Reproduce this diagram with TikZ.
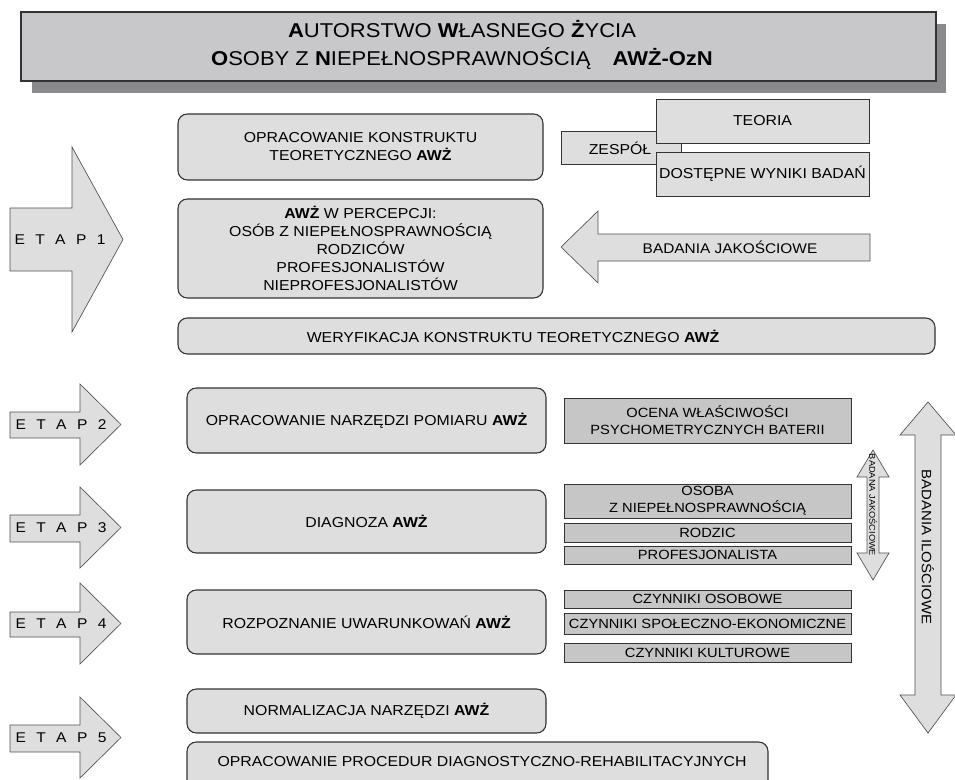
\documentclass[tikz,border=0pt]{standalone}
\usepackage{fontspec}
\setmainfont{Liberation Sans}[FakeStretch=1.1]

\definecolor{edge}{HTML}{333333}
\definecolor{lightfill}{HTML}{DEDEDE}
\definecolor{darkfill}{HTML}{C6C6C6}
\definecolor{titlefill}{HTML}{C8C8CA}
\definecolor{shadowfill}{HTML}{8A8A8C}
\definecolor{arrowfill}{HTML}{DEDEDE}

% spacing between the letters of the stage labels
\newcommand{\stagegap}{\hspace{7.8pt}}
\newcommand{\stagename}[1]{E\stagegap T\stagegap A\stagegap P\stagegap #1}

\begin{document}
\begin{tikzpicture}[x=0.75pt,y=-0.75pt,
  every node/.style={font=\fontsize{10.8}{13.5}\selectfont, align=center, inner sep=0pt},
  sz/.style 2 args={minimum width=#1*0.75pt, minimum height=#2*0.75pt},
  mainbox/.style={draw=edge, line width=0.8pt, fill=lightfill, rounded corners=7pt},
  sidebox/.style={draw=edge, line width=0.6pt, fill=lightfill},
  darkbox/.style={draw=edge, line width=0.6pt, fill=darkfill, font=\fontsize{10}{12.75}\selectfont},
  blockarrow/.style={draw=edge!85, line width=0.5pt, fill=arrowfill, line join=miter},
  etaplabel/.style={font=\fontsize{10.6}{12}\selectfont},
]
\useasboundingbox (0,0) rectangle (955,780);
\fill[white] (0,0) rectangle (955,780);

% title with drop shadow
\node[fill=shadowfill, sz={914}{69}] (shadow) at (489,58.5) {};
\node[draw=edge, line width=1.2pt, fill=titlefill, sz={915}{69}] (title) at (478.5,46.5) {};
\node[font=\fontsize{15}{21}\selectfont] (titletext) at (462,45)
  {\textbf{A}UTORSTWO \textbf{W}ŁASNEGO \textbf{Ż}YCIA\\
   \textbf{O}SOBY Z \textbf{N}IEPEŁNOSPRAWNOŚCIĄ\hspace{1.1em}\textbf{AWŻ-OzN}};

% stage arrows
\draw[blockarrow] (10,208) -- (72,208) -- (72,147) -- (123,239.5) -- (72,332) -- (72,271) -- (10,271) -- cycle;
\node[etaplabel] (etap1) at (60,240) {\stagename{1}};
\draw[blockarrow] (10,412) -- (80,412) -- (80,384) -- (121,424.5) -- (80,465) -- (80,438) -- (10,438) -- cycle;
\node[etaplabel] (etap2) at (61,425) {\stagename{2}};
\draw[blockarrow] (10,515) -- (80,515) -- (80,487) -- (121,527.5) -- (80,568) -- (80,542) -- (10,542) -- cycle;
\node[etaplabel] (etap3) at (61,528) {\stagename{3}};
\draw[blockarrow] (10,612) -- (80,612) -- (80,583) -- (121,623.5) -- (80,664) -- (80,637) -- (10,637) -- cycle;
\node[etaplabel] (etap4) at (61,624) {\stagename{4}};
\draw[blockarrow] (10,725) -- (80,725) -- (80,697) -- (121,737.5) -- (80,778) -- (80,752) -- (10,752) -- cycle;
\node[etaplabel] (etap5) at (61,738) {\stagename{5}};

% stage 1
\node[mainbox, sz={365}{66}] (construct) at (360.5,147)
  {OPRACOWANIE KONSTRUKTU\\TEORETYCZNEGO \textbf{AWŻ}};
\node[mainbox, sz={365}{99}] (perception) at (360.5,248.5)
  {\textbf{AWŻ} W PERCEPCJI:\\OSÓB Z NIEPEŁNOSPRAWNOŚCIĄ\\RODZICÓW\\PROFESJONALISTÓW\\NIEPROFESJONALISTÓW};
\node[mainbox, sz={757}{36}] (verify) at (556.5,336) {};
\node (verifytext) at (513,336) {WERYFIKACJA KONSTRUKTU TEORETYCZNEGO \textbf{AWŻ}};

\node[sidebox, sz={120}{33}] (team) at (621,147.5) {};
\node (teamtext) at (620,148) {ZESPÓŁ};
\node[sidebox, sz={213}{44}] (theory) at (762.5,121) {TEORIA};
\node[sidebox, sz={213}{44}] (results) at (762.5,174) {DOSTĘPNE WYNIKI BADAŃ};

\draw[blockarrow] (561,247) -- (598,211) -- (598,234) -- (870,234) -- (870,261) -- (598,261) -- (598,283) -- cycle;
\node[font=\fontsize{10.5}{12}\selectfont] (qualitative) at (730,247) {BADANIA JAKOŚCIOWE};

% stages 2-5
\node[mainbox, sz={359}{65}] (tools) at (366.5,420.5) {OPRACOWANIE NARZĘDZI POMIARU \textbf{AWŻ}};
\node[mainbox, sz={359}{63}] (diagnosis) at (366.5,521.5) {DIAGNOZA \textbf{AWŻ}};
\node[mainbox, sz={359}{64}] (conditions) at (366.5,622) {ROZPOZNANIE UWARUNKOWAŃ \textbf{AWŻ}};
\node[mainbox, sz={359}{44}] (norms) at (366.5,711) {NORMALIZACJA NARZĘDZI \textbf{AWŻ}};
\node[mainbox, sz={581}{48}] (procedures) at (477.5,766) {};
\node (procedurestext) at (482,762) {OPRACOWANIE PROCEDUR DIAGNOSTYCZNO-REHABILITACYJNYCH};

\node[darkbox, sz={287}{45}] (psychometry) at (707.5,420.5) {OCENA WŁAŚCIWOŚCI\\PSYCHOMETRYCZNYCH BATERII};
\node[darkbox, sz={287}{34}] (person) at (707.5,501) {OSOBA\\Z NIEPEŁNOSPRAWNOŚCIĄ};
\node[darkbox, sz={287}{19}] (parent) at (707.5,532.5) {RODZIC};
\node[darkbox, sz={287}{18}] (professional) at (707.5,555) {PROFESJONALISTA};
\node[darkbox, sz={287}{18}] (personal) at (707.5,599) {CZYNNIKI OSOBOWE};
\node[darkbox, sz={287}{21}] (social) at (707.5,623.5) {CZYNNIKI SPOŁECZNO-EKONOMICZNE};
\node[darkbox, sz={287}{19}] (cultural) at (707.5,652.5) {CZYNNIKI KULTUROWE};

% vertical double arrows
\draw[blockarrow] (873,450) -- (889,477) -- (879,477) -- (879,553) -- (889,553) -- (873,580)
  -- (857,553) -- (867,553) -- (867,477) -- (857,477) -- cycle;
\node[rotate=-90, font=\fontsize{6.3}{7}\selectfont] (qualvert) at (873,505) {BADANA JAKOŚCIOWE};
\draw[blockarrow] (928,402) -- (956,435) -- (941,435) -- (941,695) -- (956,695) -- (928,733)
  -- (900,695) -- (915,695) -- (915,435) -- (900,435) -- cycle;
\node[rotate=-90, font=\fontsize{10.2}{12}\selectfont] (quantvert) at (928,547) {BADANIA ILOŚCIOWE};
\end{tikzpicture}
\end{document}
